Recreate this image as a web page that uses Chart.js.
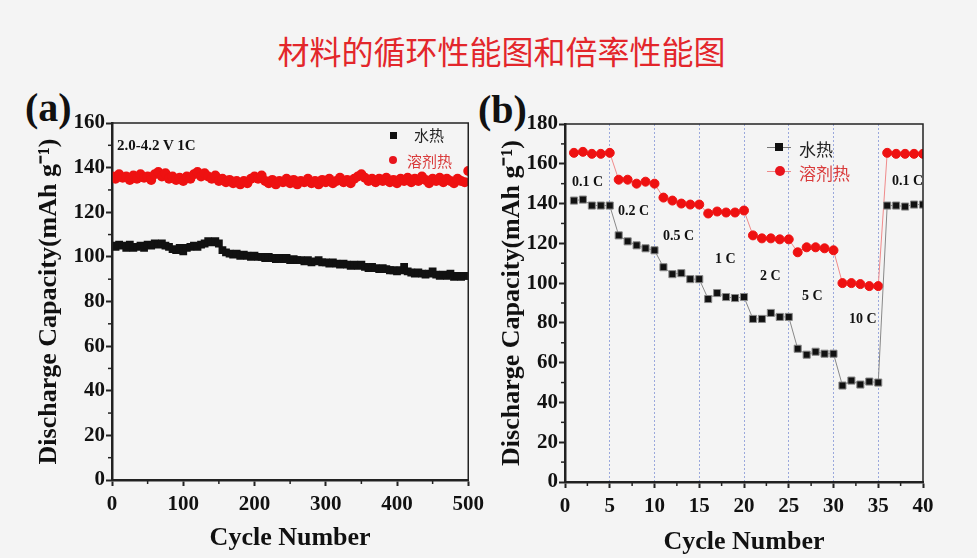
<!DOCTYPE html>
<html>
<head>
<meta charset="utf-8">
<script src="https://cdn.jsdelivr.net/npm/chart.js@4"></script>
<style>
  html, body { margin: 0; padding: 0; }
  body { width: 977px; height: 558px; background: #f4f4f4; position: relative; overflow: hidden; }
  .abs { position: absolute; white-space: nowrap; }
  #title { left: 13px; width: 977px; top: 30px; text-align: center; font: 32px "Noto Sans CJK SC", sans-serif; color: #e3262b; line-height: 40px; }
  .panel { font: bold 40px "Liberation Serif", serif; color: #111; }
  .box { position: absolute; }
  .note { font: bold 14px "Liberation Serif", serif; color: #111; }
  .lg { font: 15px "Noto Sans CJK SC", sans-serif; }
</style>
</head>
<body>
<div id="title" class="abs">材料的循环性能图和倍率性能图</div>
<div class="abs panel" style="left:25px; top:84px;">(a)</div>
<div class="abs panel" style="left:478px; top:86px;">(b)</div>

<div class="box" style="left:0; top:100px; width:490px; height:458px;"><canvas id="cycleChart"></canvas></div>
<div class="box" style="left:480px; top:100px; width:497px; height:458px;"><canvas id="rateChart"></canvas></div>

<!-- (a) annotation + legend -->
<div class="abs note" style="left:117px; top:137px; font-size:15px;">2.0-4.2 V 1C</div>
<div class="abs" style="left:390px; top:132px; width:7px; height:7px; background:#111;"></div>
<div class="abs lg" style="left:414px; top:124px; color:#222;">水热</div>
<div class="abs" style="left:389px; top:156px; width:8px; height:8px; border-radius:50%; background:#e8141c;"></div>
<div class="abs lg" style="left:407px; top:150px; color:#d93a3a;">溶剂热</div>

<!-- (b) legend -->
<div class="abs" style="left:767px; top:147px; width:24px; height:1px; background:#777;"></div>
<div class="abs" style="left:775px; top:143px; width:8px; height:8px; background:#111;"></div>
<div class="abs lg" style="left:799px; top:136px; color:#222; font-size:17px;">水热</div>
<div class="abs" style="left:767px; top:171px; width:24px; height:1px; background:#f08a8a;"></div>
<div class="abs" style="left:775px; top:166px; width:10px; height:10px; border-radius:50%; background:#e8141c;"></div>
<div class="abs lg" style="left:799px; top:160px; color:#d93a3a; font-size:17px;">溶剂热</div>

<!-- (b) rate labels -->
<div class="abs note" style="left:572px; top:174px;">0.1 C</div>
<div class="abs note" style="left:618px; top:203px;">0.2 C</div>
<div class="abs note" style="left:663px; top:228px;">0.5 C</div>
<div class="abs note" style="left:715px; top:251px;">1 C</div>
<div class="abs note" style="left:760px; top:268px;">2 C</div>
<div class="abs note" style="left:802px; top:288px;">5 C</div>
<div class="abs note" style="left:849px; top:311px;">10 C</div>
<div class="abs note" style="left:892px; top:173px;">0.1 C</div>

<script>
// ---- (a) cycling at 1C, 500 cycles (read every 5 cycles) ----
const cycleX = [1, 5, 10, 15, 20, 25, 30, 35, 40, 45, 50, 55, 60, 65, 70, 75, 80, 85, 90, 95, 100,
  105, 110, 115, 120, 125, 130, 135, 140, 145, 150, 155, 160, 165, 170, 175, 180, 185, 190, 195, 200,
  205, 210, 215, 220, 225, 230, 235, 240, 245, 250, 255, 260, 265, 270, 275, 280, 285, 290, 295, 300,
  305, 310, 315, 320, 325, 330, 335, 340, 345, 350, 355, 360, 365, 370, 375, 380, 385, 390, 395, 400,
  405, 410, 415, 420, 425, 430, 435, 440, 445, 450, 455, 460, 465, 470, 475, 480, 485, 490, 495, 500];

const hydroCycle = [105, 104.5, 105.5, 105, 104, 105.5, 104, 104.5, 105, 104, 105.5, 105, 106, 105.5, 106, 105, 104.5, 103.5, 103, 104, 102.5,
  104, 104.5, 105, 104.5, 105.5, 106, 107, 106.5, 107, 106, 103, 102, 101.5, 101, 101.5, 100.5, 101, 100.5, 100, 100.5,
  100, 100, 99.5, 100, 99.5, 99, 99.5, 99, 99.5, 98.5, 99, 98.5, 98.5, 98, 98.5, 97.5, 98, 98.5, 97.5, 97.5,
  97, 97.5, 97, 96.5, 97, 96.5, 96, 96.5, 96, 96.5, 95.5, 95, 95.5, 95, 94.5, 95, 94.5, 94, 94, 93.5,
  94, 95.5, 93.5, 93, 92.5, 93, 92.5, 92, 92.5, 93.5, 92, 91.5, 92, 91.5, 92.5, 91, 91.5, 91, 91.5, 91.5];

const solvoCycle = [136, 135, 137, 135.5, 136, 134.5, 136.5, 135, 137, 135.5, 136, 134.5, 137, 138, 136, 137.5, 135, 136, 134.5, 135.5, 134,
  136, 135, 137, 138, 136, 137.5, 136, 135, 136.5, 134, 135, 133.5, 134.5, 133, 134, 132.5, 134, 133, 135, 136,
  135, 136.5, 134, 133, 134.5, 132.5, 134, 133.5, 135, 133, 134.5, 132.5, 134, 133.5, 135, 133, 134, 132.5, 134.5, 133.5,
  135, 133, 134, 135.5, 133.5, 134.5, 133, 135, 136, 137, 135.5, 134, 135, 133.5, 135, 134, 135.5, 133.5, 134.5, 133,
  135, 134, 135.5, 133.5, 135, 134, 136, 134.5, 133, 135, 134, 135.5, 133.5, 135, 134, 133, 135, 134, 133.5, 138.5];

// ---- (b) rate capability, 40 cycles ----
const rateX = [1, 2, 3, 4, 5, 6, 7, 8, 9, 10, 11, 12, 13, 14, 15, 16, 17, 18, 19, 20,
  21, 22, 23, 24, 25, 26, 27, 28, 29, 30, 31, 32, 33, 34, 35, 36, 37, 38, 39, 40];
const hydroRate = [141.5, 142, 139, 139, 139, 124, 121, 119, 117.5, 116.5, 108, 104.5, 105, 102, 102, 92, 95, 93, 92.5, 93,
  82, 82, 85, 83, 83, 67, 64, 65.5, 64.5, 64.5, 48.5, 51, 49, 50.5, 50, 139, 139, 138.5, 139.5, 139.5];
const solvoRate = [165.5, 166, 165, 165, 165.5, 152, 152, 150, 151, 150, 143, 141.5, 140, 139.5, 139.5, 135, 136, 135.5, 135.5, 136.5,
  124, 122.5, 122.5, 122, 122, 115.5, 118, 118, 117.5, 116.5, 100, 100, 99.5, 98.5, 98.5, 165.5, 165, 165, 165, 165];

const seriesNames = ['水热', '溶剂热'];

const pairs = (xs, ys) => xs.map((x, i) => ({ x: x, y: ys[i] }));

// box round the plot area + minor ticks halfway between labelled ones
const frame = {
  id: 'frame',
  afterDraw(chart) {
    const { ctx, chartArea: a } = chart;
    ctx.save();
    ctx.strokeStyle = '#222';
    ctx.lineWidth = 1.5;
    ctx.strokeRect(a.left, a.top, a.right - a.left, a.bottom - a.top);
    ['x', 'y'].forEach(id => {
      const s = chart.scales[id];
      for (let i = 0; i < s.ticks.length - 1; i++) {
        const p = s.getPixelForValue((s.ticks[i].value + s.ticks[i + 1].value) / 2);
        ctx.beginPath();
        if (id === 'x') { ctx.moveTo(p, s.top); ctx.lineTo(p, s.top + 4); }
        else { ctx.moveTo(s.right, p); ctx.lineTo(s.right - 4, p); }
        ctx.stroke();
      }
    });
    ctx.restore();
  }
};

const serif = 'Liberation Serif';

function axis(min, max, step, title, fit, titlePad, tickPad, extra) {
  return Object.assign({
    type: 'linear',
    min: min, max: max,
    afterFit: fit,
    border: { display: true, color: '#222', width: 2.5 },
    grid: { drawOnChartArea: false, tickLength: 6, tickColor: '#222', tickWidth: 2 },
    ticks: { stepSize: step, autoSkip: false, color: '#111', padding: tickPad, font: { family: serif, size: 21, weight: 'bold' } },
    title: { display: true, text: title, color: '#111', padding: titlePad, font: { family: serif, size: 26, weight: 'bold' } }
  }, extra || {});
}

const common = {
  responsive: true,
  maintainAspectRatio: false,
  animation: false,
  plugins: { legend: { display: false }, tooltip: { enabled: false } }
};

new Chart(document.getElementById('cycleChart'), {
  type: 'scatter',
  data: {
    datasets: [
      { label: seriesNames[0], data: pairs(cycleX, hydroCycle), pointStyle: 'rect', pointRadius: 5.5,
        backgroundColor: '#111', borderColor: '#111', borderWidth: 0 },
      { label: seriesNames[1], data: pairs(cycleX, solvoCycle), pointStyle: 'circle', pointRadius: 5,
        backgroundColor: '#ee1111', borderColor: '#ee1111', borderWidth: 0 }
    ]
  },
  options: Object.assign({}, common, {
    layout: { padding: { left: 0, top: 23, right: 21, bottom: 0 } },
    scales: {
      x: axis(0, 500, 100, 'Cycle Number', s => { s.height = 78; }, { top: 0, bottom: 4 }, 6),
      y: axis(0, 160, 20, 'Discharge Capacity(mAh g⁻¹)', s => { s.width = 112; }, { top: 34, bottom: 0 }, 1)
    }
  }),
  plugins: [frame]
});

new Chart(document.getElementById('rateChart'), {
  type: 'scatter',
  data: {
    datasets: [
      { label: seriesNames[0], data: pairs(rateX, hydroRate), showLine: true, pointStyle: 'rect', pointRadius: 5,
        backgroundColor: '#111', borderColor: '#888', borderWidth: 1 },
      { label: seriesNames[1], data: pairs(rateX, solvoRate), showLine: true, pointStyle: 'circle', pointRadius: 4.5,
        backgroundColor: '#ee1111', borderColor: '#f08a8a', borderWidth: 1, pointBorderColor: '#ee1111' }
    ]
  },
  options: Object.assign({}, common, {
    layout: { padding: { left: 0, top: 24, right: 54, bottom: 0 } },
    scales: {
      x: axis(0, 40, 5, 'Cycle Number', s => { s.height = 76; }, { top: 0, bottom: 0 }, 6, {
        grid: {
          drawOnChartArea: true, tickLength: 6, tickColor: '#222', tickWidth: 2,
          color: c => (c.tick && c.tick.value > 0 && c.tick.value < 40) ? '#9aa8dc' : 'rgba(0,0,0,0)',
          lineWidth: 1
        },
        border: { display: true, color: '#222', width: 2.5, dash: [2, 2] }
      }),
      y: axis(0, 180, 20, 'Discharge Capacity(mAh g⁻¹)', s => { s.width = 85; }, { top: 17, bottom: 0 }, 1)
    }
  }),
  plugins: [frame]
});
</script>
</body>
</html>
